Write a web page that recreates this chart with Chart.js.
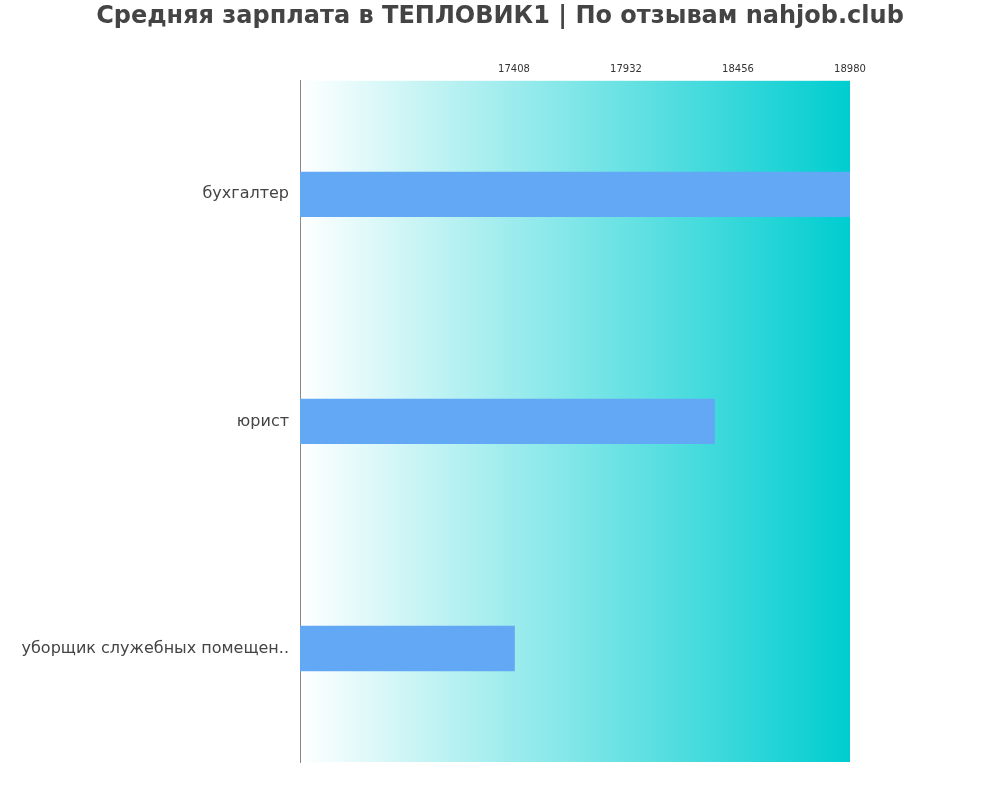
<!DOCTYPE html>
<html lang="en">
<head>
<meta charset="UTF-8">
<title>Средняя зарплата</title>
<script src="https://cdn.jsdelivr.net/npm/chart.js@4/dist/chart.umd.min.js"></script>
<style>body{margin:0;background:#fff}</style>
</head>
<body>
<div style="width:1000px;height:800px"><canvas id="c"></canvas></div>
<script>
const labels = ['бухгалтер', 'юрист', 'уборщик служебных помещен..'];
const values = [18980, 18348, 17412];
const tickValues = [17408, 17932, 18456, 18980];

const bgGradient = {
	id: 'bgGradient',
	beforeDraw(chart) {
		const { ctx, chartArea: a } = chart;
		const g = ctx.createLinearGradient(a.left, 0, a.right, 0);
		g.addColorStop(0, '#ffffff');
		g.addColorStop(1, '#00cdd0');
		ctx.save();
		ctx.fillStyle = g;
		ctx.fillRect(a.left, a.top, a.right - a.left, a.bottom - a.top);
		ctx.restore();
	}
};

new Chart(document.getElementById('c'), {
	type: 'bar',
	data: {
		labels: labels,
		datasets: [{ data: values, backgroundColor: '#63a8f5', barPercentage: 0.2, categoryPercentage: 1 }]
	},
	options: {
		indexAxis: 'y',
		responsive: true,
		maintainAspectRatio: false,
		animation: false,
		layout: { padding: { right: 0, bottom: 38, top: 0 } },
		plugins: {
			legend: { display: false },
			tooltip: { enabled: false },
			title: {
				display: true,
				text: 'Средняя зарплата в ТЕПЛОВИК1 | По отзывам nahjob.club',
				color: '#444',
				font: { family: 'DejaVu Sans', size: 24, weight: 'bold' },
				padding: { top: 2, bottom: 28 }
			}
		},
		scales: {
			x: {
				position: 'top',
				min: 16407,
				max: 18980,
				afterBuildTicks(s) { s.ticks = tickValues.map(v => ({ value: v })); },
				grid: { display: false, drawTicks: false },
				border: { display: false },
				ticks: { color: '#333', font: { family: 'DejaVu Sans', size: 10 }, padding: 5, callback: v => String(v) }
			},
			y: {
				afterFit(s) { s.width = 300; },
				grid: { display: false, drawTicks: false },
				border: { color: '#888' },
				ticks: { color: '#444', font: { family: 'DejaVu Sans', size: 16 }, padding: 11 }
			},
			y2: {
				position: 'right',
				afterFit(s) { s.width = 150; },
				grid: { display: false, drawTicks: false },
				border: { display: false },
				ticks: { display: false }
			}
		}
	},
	plugins: [bgGradient]
});
</script>
</body>
</html>
